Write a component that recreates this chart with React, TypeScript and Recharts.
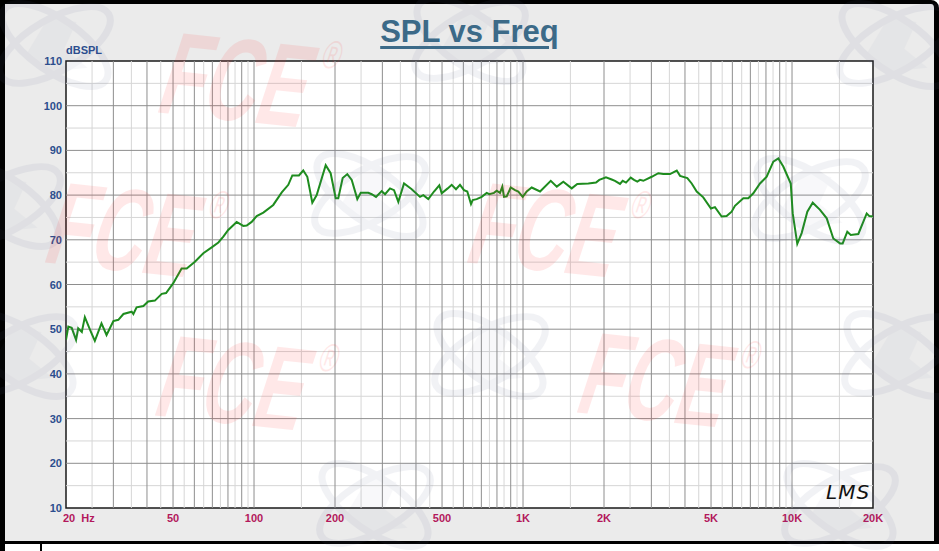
import React from 'react';
import { LineChart, Line, XAxis, YAxis, CartesianGrid, ReferenceLine, ReferenceArea } from 'recharts';

// frequency (Hz) and SPL (dB)
const freq = [
  20, 20.4, 21.0, 21.8, 22.2, 22.9, 23.5, 24.6, 25.6, 27.1, 28.3, 30.0, 31.3, 32.7, 35.1, 35.6,
  36.6, 38.8, 40.4, 42.8, 45.4, 47.1, 50.1, 53.8, 56.2, 60.3, 64.8, 69.6, 73.7, 76.9, 80.2, 86.2,
  91.2, 93.9, 98.0, 102.3, 108.3, 117.9, 126.8, 134.1, 138.8, 146.9, 152.4, 157.8, 164.7, 171.0,
  184.7, 192.7, 201.2, 205.7, 213.6, 222.2, 230.8, 242.1, 249.3, 266.0, 273.8, 284.1, 298.3, 306.9,
  320.3, 331.5, 343.9, 361.1, 385.7, 414.0, 425.9, 444.5, 466.7, 488.4, 498.5, 524.8, 543.0, 563.4,
  583.0, 603.4, 620.6, 640.6, 650.0, 672.6, 702.1, 732.8, 749.3, 780.1, 798.3, 821.2, 837.5, 849.9,
  869.7, 900.0, 933.7, 960.6, 997.5, 1032, 1077, 1157, 1268, 1335, 1412, 1517, 1591, 1749, 1868,
  1921, 2034, 2136, 2197, 2294, 2347, 2415, 2514, 2586, 2660, 2722, 2800, 3008, 3184, 3323, 3520,
  3728, 3835, 4082, 4237, 4423, 4678, 4996, 5170, 5474, 5714, 5964, 6136, 6590, 6878, 7180, 7603,
  8051, 8520, 8892, 9280, 9891, 10060, 10460, 10860, 11400, 11940, 12710, 13460, 14240, 15080,
  15430, 16050, 16530, 17640, 18950, 19380, 20000,
];
const spl = [
  47.6, 50.6, 50.3, 47.6, 50.2, 49.4, 52.7, 49.8, 47.4, 51.3, 48.7, 51.8, 52.1, 53.4, 53.9, 53.4,
  54.9, 55.2, 56.2, 56.4, 57.9, 58.1, 60.3, 63.6, 63.6, 65.1, 67.0, 68.3, 69.4, 70.7, 72.2, 74.0,
  73.1, 73.2, 74.0, 75.3, 76.1, 77.8, 80.6, 82.3, 84.4, 84.4, 85.5, 84.1, 78.3, 80.0,
  86.7, 84.9, 79.3, 79.3, 83.8, 84.7, 83.4, 79.1, 80.5, 80.5, 80.2, 79.6, 80.9, 80.2,
  81.5, 81.1, 78.5, 82.6, 81.3, 79.6, 80.0, 79.1, 80.8, 82.2, 80.4, 81.5, 82.3, 81.3,
  82.3, 81.1, 80.8, 78.0, 78.9, 79.1, 79.6, 80.5, 80.2, 80.5, 81.0, 80.5, 81.9, 79.6,
  79.7, 81.7, 81.1, 80.8, 79.6, 80.8, 81.7, 80.8, 83.2, 81.9, 83.0, 81.5, 82.5, 82.6, 82.8,
  83.4, 84.0, 83.5, 83.2, 82.5, 83.2, 82.8, 83.9, 83.4, 83.0, 83.4, 83.2, 84.1, 84.9, 84.7, 84.7,
  85.5, 84.3, 83.8, 82.6, 80.8, 79.5, 77.0, 77.3, 75.2, 75.3, 76.3, 77.6, 79.3, 79.3, 80.4, 82.6,
  84.1, 87.5, 88.2, 86.4, 82.6, 75.9, 69.1, 71.5, 76.3, 78.3, 76.7, 74.8, 70.3, 69.2,
  69.2, 71.8, 71.1, 71.3, 75.9, 75.3, 75.2,
];

const xTicks = [20, 50, 100, 200, 500, 1000, 2000, 5000, 10000, 20000];
const xTickLabels = ['20\u00a0\u00a0Hz', '50', '100', '200', '500', '1K', '2K', '5K', '10K', '20K'];
const yTicks = [10, 20, 30, 40, 50, 60, 70, 80, 90, 100, 110];

// log grid: dark line on each multiple, light line half way
const decades = [10, 100, 1000];
const majorX = decades.flatMap((d) => [2, 3, 4, 5, 6, 7, 8, 9, 10].map((m) => m * d)).filter((f) => f > 20 && f < 20000);
const minorX = decades.flatMap((d) => [1.5, 2.5, 3.5, 4.5, 5.5, 6.5, 7.5, 8.5, 9.5].map((m) => m * d)).filter((f) => f > 20 && f < 20000);
minorX.push(15000);
const minorY = [15, 25, 35, 45, 55, 65, 75, 85, 95, 105];

const data = freq.map((f, i) => ({ f, spl: spl[i] }));

const fceSpots = [[153, 112], [40, 262], [462, 262], [150, 415], [572, 412]];
const atomSpots = [
  [55, 45], [470, 40], [895, 45], [5, 205], [370, 195], [810, 200], [20, 355], [490, 355], [900, 355],
  [375, 505], [840, 505],
];

const XTick = (props: any) => {
  const { x, y, payload } = props;
  const i = xTicks.indexOf(payload.value);
  const first = i === 0;
  return (
    <text x={first ? x - 3 : x} y={y + 14} textAnchor={first ? 'start' : 'middle'} fill="#b3185c"
      fontSize={11} fontWeight="bold" fontFamily="Liberation Sans, Arial">
      {xTickLabels[i]}
    </text>
  );
};

const YTick = (props: any) => {
  const { x, y, payload } = props;
  return (
    <text x={x - 4} y={y + 4} textAnchor="end" fill="#2c4e8e" fontSize={11} fontWeight="bold"
      fontFamily="Liberation Sans, Arial">
      {payload.value}
    </text>
  );
};

const Watermarks = () => (
  <svg width={939} height={551} style={{ position: 'absolute', left: 0, top: 0, pointerEvents: 'none' }}>
    {atomSpots.map(([cx, cy], i) => (
      <g key={'a' + i} opacity={0.08} stroke="#5a6490" fill="none" strokeWidth={7}>
        <ellipse cx={cx} cy={cy} rx={62} ry={26} transform={`rotate(-30 ${cx} ${cy})`} />
        <ellipse cx={cx} cy={cy} rx={62} ry={26} transform={`rotate(35 ${cx} ${cy})`} />
        <path d={`M${cx - 28} ${cy + 10} L${cx - 5} ${cy - 28} L${cx + 20} ${cy - 22} L${cx + 8} ${cy + 4} L${cx + 30} ${cy + 22} L${cx - 10} ${cy + 26} Z`}
          fill="#5a6490" strokeWidth={2} opacity={0.5} />
      </g>
    ))}
    {fceSpots.map(([x, y], i) => (
      <g key={'f' + i} transform={`translate(${x} ${y}) rotate(6) skewX(-12) scale(0.62 1)`} opacity={0.1}>
        <text x={0} y={0} fontSize={118} fontWeight="bold" fontFamily="Liberation Sans, Arial" fill="#ff2a2a">
          FCE
        </text>
        <text x={238} y={-62} fontSize={40} fontFamily="Liberation Sans, Arial" fill="#ff2a2a">®</text>
      </g>
    ))}
    <text x={826} y={499} fontSize={20} fontStyle="italic" fontFamily="DejaVu Sans, sans-serif" fill="#111"
      fontWeight={300} letterSpacing={1}>
      LMS
    </text>
  </svg>
);

export default function App() {
  return (
    <div style={{ position: 'absolute', left: 0, top: 0, width: 939, height: 551, background: '#ffffff', overflow: 'hidden' }}>
      <div style={{
        position: 'absolute', left: 0, top: 0, width: 939, height: 544, boxSizing: 'border-box',
        background: '#ebebeb', borderStyle: 'solid', borderColor: '#000',
        borderWidth: '4px 5px 3px 5px', borderTopRightRadius: 8,
      }} />
      <div style={{ position: 'absolute', left: 0, top: 544, width: 5, height: 7, background: '#000' }} />
      <div style={{ position: 'absolute', left: 40, top: 544, width: 2, height: 7, background: '#000' }} />
      <div style={{ position: 'absolute', left: 0, top: 0 }}>
        <LineChart width={939} height={551} data={data} margin={{ top: 61, right: 66, bottom: 23, left: 36 }}>
          <CartesianGrid fill="#ffffff" horizontal={false} vertical={false} />
          {minorX.map((f) => (
            <ReferenceLine key={'mx' + f} x={f} stroke="#d6d6d6" strokeWidth={1} />
          ))}
          {minorY.map((v) => (
            <ReferenceLine key={'my' + v} y={v} stroke="#d6d6d6" strokeWidth={1} />
          ))}
          {majorX.map((f) => (
            <ReferenceLine key={'Mx' + f} x={f} stroke="#8e8e8e" strokeWidth={1} />
          ))}
          {yTicks.slice(1, -1).map((v) => (
            <ReferenceLine key={'My' + v} y={v} stroke="#8e8e8e" strokeWidth={1} />
          ))}
          <XAxis dataKey="f" type="number" scale="log" domain={[20, 20000]} ticks={xTicks} interval={0}
            allowDataOverflow height={20} tickSize={0} tickMargin={0} axisLine={false} tickLine={false}
            tick={(p: any) => <XTick {...p} />} />
          <YAxis type="number" domain={[10, 110]} ticks={yTicks} interval={0} allowDataOverflow width={30}
            tickSize={0} tickMargin={0} axisLine={false} tickLine={false} tick={(p: any) => <YTick {...p} />} />
          <Line type="linear" dataKey="spl" stroke="#1e8c1e" strokeWidth={2} dot={false} isAnimationActive={false} />
          <ReferenceArea x1={20} x2={20000} y1={10} y2={110} fill="none" stroke="#1a1a1a" strokeWidth={1.5} ifOverflow="visible" />
        </LineChart>
      </div>
      <Watermarks />
      <div style={{
        position: 'absolute', left: 0, top: 14, width: 939, textAlign: 'center', fontFamily: 'Liberation Sans, Arial',
        fontWeight: 'bold', fontSize: 31, color: '#3c6a88', textDecoration: 'underline',
        textDecorationThickness: 3, textUnderlineOffset: 4,
      }}>
        SPL vs Freq
      </div>
      <div style={{
        position: 'absolute', left: 66, top: 44, fontFamily: 'Liberation Sans, Arial', fontSize: 11,
        fontWeight: 'bold', color: '#2c4e8e',
      }}>
        dBSPL
      </div>
    </div>
  );
}
